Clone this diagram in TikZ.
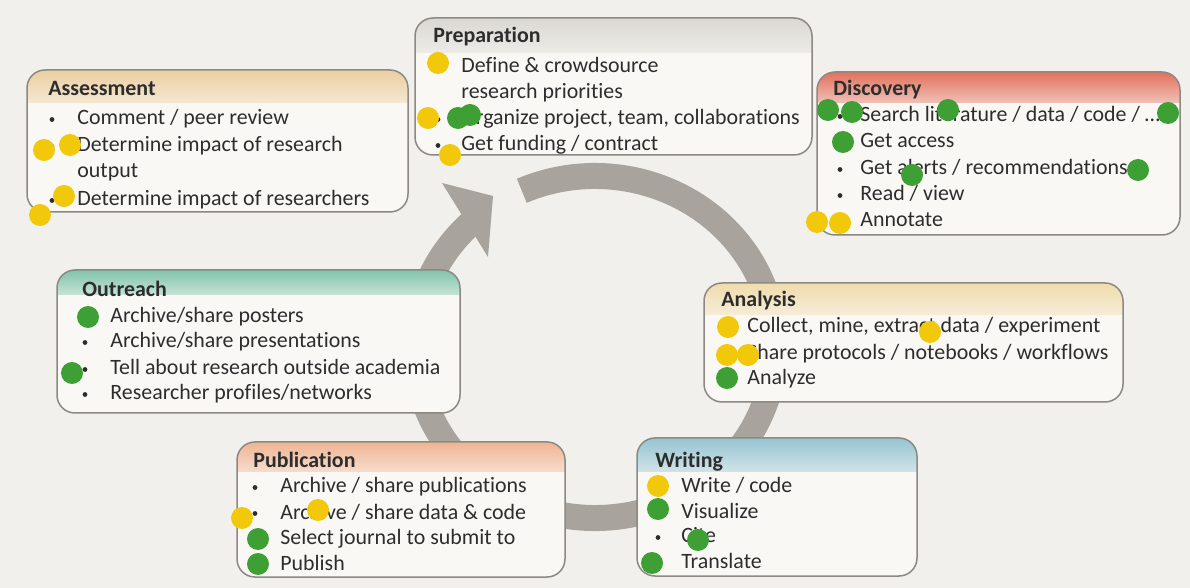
\documentclass[tikz,border=0pt]{standalone}
\usepackage{fontspec}
\setmainfont{Carlito}[Ligatures=NoCommon]
\definecolor{paper}{RGB}{241,240,237}
\definecolor{boxbg}{RGB}{249,248,245}
\definecolor{edge}{RGB}{140,137,132}
\definecolor{ink}{RGB}{45,45,45}
\definecolor{ringgray}{RGB}{168,163,156}
\definecolor{dotyellow}{RGB}{242,200,10}
\definecolor{dotgreen}{RGB}{62,160,52}
\definecolor{hdrAss}{RGB}{236,206,160}
\definecolor{hdrPrep}{RGB}{218,216,210}
\definecolor{hdrDisc}{RGB}{226,112,92}
\definecolor{hdrOut}{RGB}{128,196,170}
\definecolor{hdrAna}{RGB}{240,220,172}
\definecolor{hdrPub}{RGB}{240,180,146}
\definecolor{hdrWri}{RGB}{150,196,210}
% box with a shaded header: x1,y1,x2,y2,header bottom,colour
\newcommand\stagebox[6]{%
  \begin{scope}
    \clip[rounded corners=9pt] (#1,#2) rectangle (#3,#4);
    \fill[boxbg] (#1,#2) rectangle (#3,#4);
    \shade[top color=#6,bottom color=#6!40!boxbg] (#1,#2) rectangle (#3,#5);
  \end{scope}
  \draw[boxline] (#1,#2) rectangle (#3,#4);}
\begin{document}
\begin{tikzpicture}[x=0.5pt,y=-0.5pt,line cap=round,line join=round,
  every node/.style={font=\fontsize{10.95}{13}\selectfont,text=ink,inner sep=0pt},
  boxline/.style={draw=edge,line width=0.75pt,rounded corners=9pt},
  stagetitle/.style={anchor=base west,font=\fontsize{10.95}{13}\selectfont\bfseries},
  entry/.style={anchor=base west},
  ydot/.style={fill=dotyellow},
  gdot/.style={fill=dotgreen}]
  \useasboundingbox (0,0) rectangle (1190,588);
  \fill[paper] (0,0) rectangle (1190,588);
  % cycle arrow
  \draw[ringgray,line width=13pt,line cap=butt] (595,347) ++(-114:180 and 171)
    arc[start angle=-114,end angle=229,x radius=180,y radius=171];
  \fill[ringgray] (442,183) -- (493,196) -- (488,257) -- cycle;
  % Assessment
  \stagebox{27}{70}{408}{212}{103}{hdrAss}
  \node[stagetitle] (ass) at (48,96) {Assessment};
  \node[entry] (ass1) at (77,125) {Comment / peer review};
  \node[entry] (ass2) at (77,152) {Determine impact of research};
  \node[entry] (ass3) at (77,178) {output};
  \node[entry] (ass4) at (77,206) {Determine impact of researchers};
  \foreach \y in {125,152,206} \fill[ink] (52,\y-5.5) circle (2.4);
  % Preparation
  \stagebox{415}{18}{812}{155}{53}{hdrPrep}
  \node[stagetitle] (prep) at (433,43) {Preparation};
  \node[entry] (prep1) at (461,73) {Define \& crowdsource};
  \node[entry] (prep2) at (461,99) {research priorities};
  \node[entry] (prep3) at (461,125) {Organize project, team, collaborations};
  \node[entry] (prep4) at (461,151) {Get funding / contract};
  \foreach \y in {73,125,151} \fill[ink] (438,\y-5.5) circle (2.4);
  % Discovery
  \stagebox{817}{72}{1180}{235}{103}{hdrDisc}
  \node[stagetitle] (disc) at (833,96) {Discovery};
  \node[entry] (disc1) at (860,122) {Search literature / data / code / …};
  \node[entry] (disc2) at (860,148) {Get access};
  \node[entry] (disc3) at (860,175) {Get alerts / recommendations};
  \node[entry] (disc4) at (860,201) {Read / view};
  \node[entry] (disc5) at (860,227) {Annotate};
  \foreach \y in {122,148,175,201,227} \fill[ink] (840,\y-5.5) circle (2.4);
  % Outreach
  \stagebox{57}{270}{460}{413}{295}{hdrOut}
  \node[stagetitle] (out) at (82,297) {Outreach};
  \node[entry] (out1) at (110,323) {Archive/share posters};
  \node[entry] (out2) at (110,348) {Archive/share presentations};
  \node[entry] (out3) at (110,375) {Tell about research outside academia};
  \node[entry] (out4) at (110,400) {Researcher profiles/networks};
  \foreach \y in {323,348,375,400} \fill[ink] (85,\y-5.5) circle (2.4);
  % Analysis
  \stagebox{704}{283}{1123}{402}{315}{hdrAna}
  \node[stagetitle] (ana) at (721,307) {Analysis};
  \node[entry] (ana1) at (747,333) {Collect, mine, extract data / experiment};
  \node[entry] (ana2) at (747,360) {Share protocols / notebooks / workflows};
  \node[entry] (ana3) at (747,385) {Analyze};
  \foreach \y in {333,360,385} \fill[ink] (727,\y-5.5) circle (2.4);
  % Publication
  \stagebox{237}{442}{565}{577}{472}{hdrPub}
  \node[stagetitle] (pub) at (253,467) {Publication};
  \node[entry] (pub1) at (280,493) {Archive / share publications};
  \node[entry] (pub2) at (280,519) {Archive / share data \& code};
  \node[entry] (pub3) at (280,545) {Select journal to submit to};
  \node[entry] (pub4) at (280,570) {Publish};
  \foreach \y in {493,519,545,570} \fill[ink] (255,\y-5.5) circle (2.4);
  % Writing
  \stagebox{637}{438}{917}{576}{472}{hdrWri}
  \node[stagetitle] (wri) at (655,467) {Writing};
  \node[entry] (wri1) at (681,493) {Write / code};
  \node[entry] (wri2) at (681,518) {Visualize};
  \node[entry] (wri3) at (681,543) {Cite};
  \node[entry] (wri4) at (681,568) {Translate};
  \foreach \y in {493,518,543,568} \fill[ink] (658,\y-5.5) circle (2.4);
  % stickers
  \foreach \p in {(44,150),(70,145),(64,196),(40,215),(438,63),(428,118),(450,155),
      (817,222),(840,223),(728,327),(930,332),(727,355),(748,355),
      (242,518),(318,510),(658,486)}
    \fill[ydot] \p circle (11);
  \foreach \p in {(458,118),(470,115),(828,110),(852,112),(948,110),(1168,113),
      (843,142),(912,175),(1138,170),(88,317),(72,373),(727,378),
      (258,539),(258,564),(658,509),(698,540),(652,563)}
    \fill[gdot] \p circle (11);
\end{tikzpicture}
\end{document}
